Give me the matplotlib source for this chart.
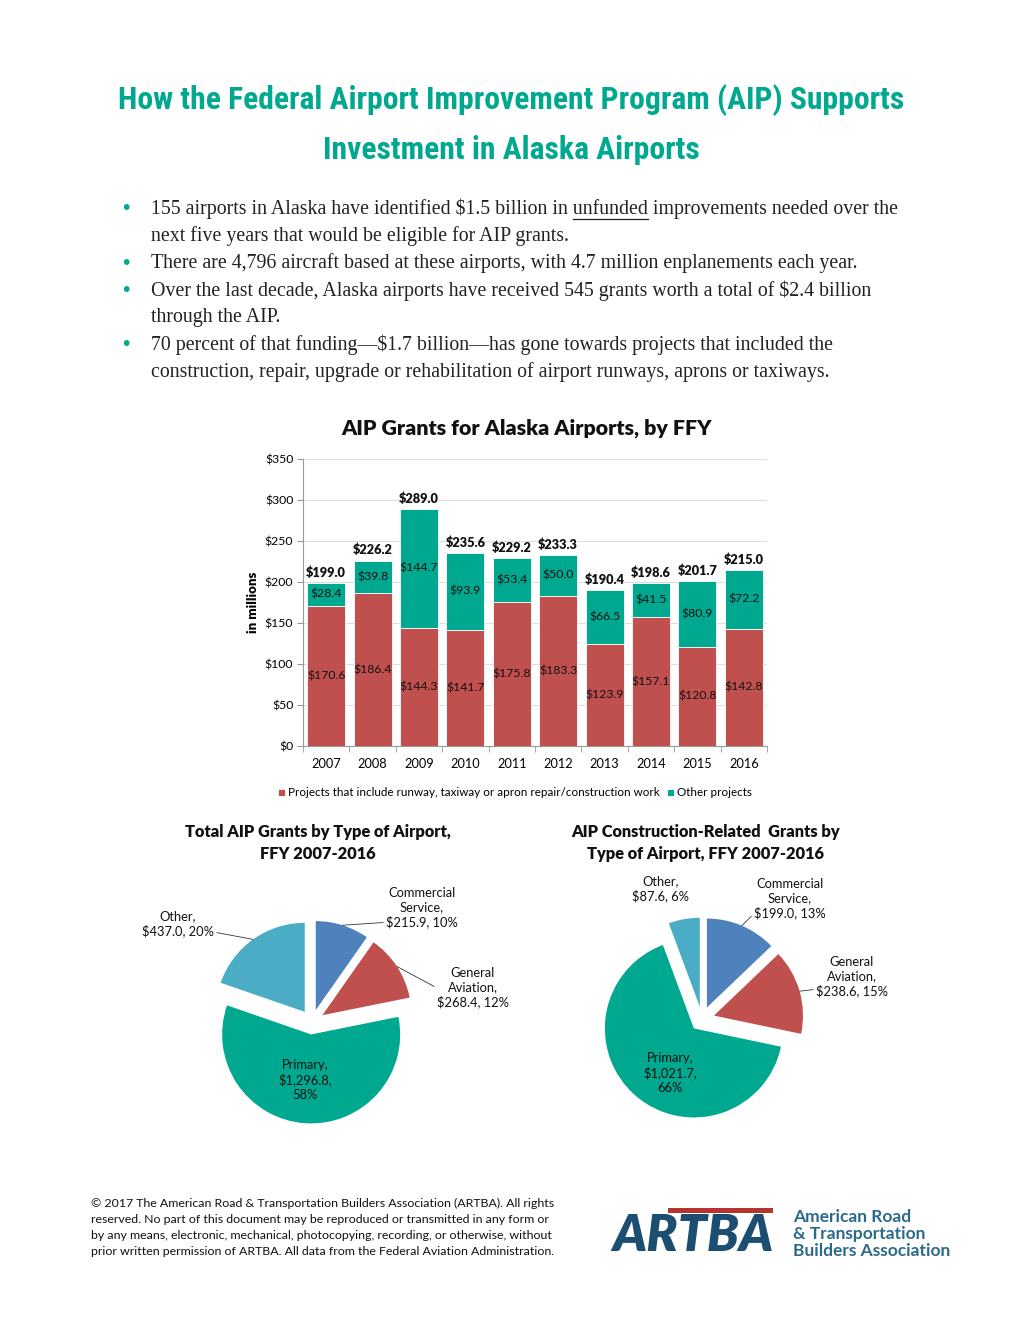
import math
import matplotlib
matplotlib.use("Agg")
import matplotlib.pyplot as plt
from matplotlib import font_manager
from matplotlib.patches import Rectangle

# ---- data ----
years = ["2007", "2008", "2009", "2010", "2011", "2012", "2013", "2014", "2015", "2016"]
runway_work = [170.6, 186.4, 144.3, 141.7, 175.8, 183.3, 123.9, 157.1, 120.8, 142.8]
other_work = [28.4, 39.8, 144.7, 93.9, 53.4, 50.0, 66.5, 41.5, 80.9, 72.2]
totals = [199.0, 226.2, 289.0, 235.6, 229.2, 233.3, 190.4, 198.6, 201.7, 215.0]

pie_types = ["Commercial Service", "General Aviation", "Primary", "Other"]
total_grants = [215.9, 268.4, 1296.8, 437.0]
total_pct = [10, 12, 58, 20]
constr_grants = [199.0, 238.6, 1021.7, 87.6]
constr_pct = [13, 15, 66, 6]

bullets = [
    ["155 airports in Alaska have identified $1.5 billion in unfunded improvements needed over the",
     "next five years that would be eligible for AIP grants."],
    ["There are 4,796 aircraft based at these airports, with 4.7 million enplanements each year."],
    ["Over the last decade, Alaska airports have received 545 grants worth a total of $2.4 billion",
     "through the AIP."],
    ["70 percent of that funding\u2014$1.7 billion\u2014has gone towards projects that included the",
     "construction, repair, upgrade or rehabilitation of airport runways, aprons or taxiways."],
]

TEAL = "#00A88F"
RED = "#C0504D"
BLUE = "#4F81BD"
LBLUE = "#4BACC6"
NAVY = "#1B4E70"

names = {f.name for f in font_manager.fontManager.ttflist}


def pick(*cands):
    for c in cands:
        if c in names:
            return c
    return "DejaVu Sans"


NARROW = pick("Roboto Condensed", "Open Sans Condensed", "Liberation Sans Narrow", "Lato")
SANS = pick("Lato")
SERIF = "Liberation Serif" if "Liberation Serif" in names else "DejaVu Serif"

W, H = 1020, 1320
fig = plt.figure(figsize=(W / 100, H / 100), dpi=100)


def fx(px):
    return px / W


def fy(py):
    return 1 - py / H


# ---- headline ----
fig.text(fx(511), fy(100), "How the Federal Airport Improvement Program (AIP) Supports",
         family=NARROW, weight="bold", size=22.8, color=TEAL, ha="center", va="center")
fig.text(fx(511), fy(150), "Investment in Alaska Airports",
         family=NARROW, weight="bold", size=22.8, color=TEAL, ha="center", va="center")

# ---- bullet points ----
renderer = fig.canvas.get_renderer()
BSIZE = 14.3
line_y = 209
for item in bullets:
    fig.text(fx(126), fy(line_y), "\u2022", size=14, color=TEAL, ha="center", va="center")
    for line in item:
        fig.text(fx(151), fy(line_y), line, family=SERIF, size=BSIZE, color="#222222",
                 ha="left", va="center")
        if "unfunded" in line:
            # underline the word "unfunded"
            head = line[:line.index("unfunded") + len("unfunded")]
            t1 = fig.text(fx(151), fy(line_y), head, family=SERIF, size=BSIZE, va="center")
            t2 = fig.text(fx(151), fy(line_y), "unfunded", family=SERIF, size=BSIZE, va="center")
            x_end = t1.get_window_extent(renderer).x1
            w_word = t2.get_window_extent(renderer).width
            t1.remove()
            t2.remove()
            fig.add_artist(plt.Line2D([(x_end - w_word) / W, x_end / W],
                                      [fy(line_y + 10), fy(line_y + 10)],
                                      color="#222222", lw=0.9))
        line_y += 27.2

# ---- bar chart ----
fig.text(fx(527), fy(428), "AIP Grants for Alaska Airports, by FFY", family=SANS,
         weight="heavy", size=15.4, color="#111111", ha="center", va="center")

ax = fig.add_axes([fx(303), fy(746), (767 - 303) / W, (746 - 459) / H])
x = list(range(len(years)))
b1 = ax.bar(x, runway_work, width=0.82, color=RED, edgecolor="white", linewidth=0.6,
            label="Projects that include runway, taxiway or apron repair/construction work", zorder=3)
b2 = ax.bar(x, other_work, bottom=runway_work, width=0.82, color=TEAL, edgecolor="white",
            linewidth=0.6, label="Other projects", zorder=3)
for i in x:
    ax.text(i, runway_work[i] / 2, f"${runway_work[i]:.1f}", ha="center", va="center",
            family=SANS, size=8.8, color="#111111", zorder=4)
    ax.text(i, runway_work[i] + other_work[i] / 2, f"${other_work[i]:.1f}", ha="center",
            va="center", family=SANS, size=8.8, color="#111111", zorder=4)
    ax.text(i, totals[i] + 5, f"${totals[i]:.1f}", ha="center", va="bottom",
            family=SANS, weight="heavy", size=9.2, color="#111111", zorder=4)

ax.set_xlim(-0.5, len(years) - 0.5)
ax.set_ylim(0, 350)
ax.set_yticks(range(0, 351, 50))
ax.set_yticklabels([f"${v}" for v in range(0, 351, 50)], family=SANS, size=8.8)
ax.set_xticks(x)
ax.set_xticklabels(years, family=SANS, size=9.2)
ax.set_xticks([i + 0.5 for i in range(-1, len(years))], minor=True)
ax.tick_params(axis="x", which="major", length=0, pad=9)
ax.tick_params(axis="x", which="minor", length=4, color="#999999")
ax.tick_params(axis="y", length=4, color="#999999", pad=3)
ax.grid(axis="y", color="#DDDDDD", lw=0.8, zorder=0)
for s in ["top", "right"]:
    ax.spines[s].set_visible(False)
for s in ["left", "bottom"]:
    ax.spines[s].set_color("#999999")
    ax.spines[s].set_linewidth(0.8)
ax.set_ylabel("in millions", family=SANS, weight="heavy", size=9.5)
ax.yaxis.set_label_coords((259 - 303) / 464, 0.5)
ax.legend(handles=[b1, b2], loc="center", bbox_to_anchor=(fx(515), fy(793)),
          bbox_transform=fig.transFigure, ncol=2, frameon=False, handlelength=0.6,
          handleheight=0.6, handletextpad=0.3, columnspacing=0.6,
          prop={"family": SANS, "size": 8.4})


# ---- pies ----
def draw_pie(cx, cy, values, pcts, title, tx, label_pos, relpos):
    fig.text(fx(tx), fy(832), title[0], family=SANS, weight="heavy", size=11.8,
             ha="center", va="center", color="#111111")
    fig.text(fx(tx), fy(854), title[1], family=SANS, weight="heavy", size=11.8,
             ha="center", va="center", color="#111111")
    half = 150
    pax = fig.add_axes([fx(cx - half), fy(cy + half), 2 * half / W, 2 * half / H])
    lim = half / 89
    wedges, _ = pax.pie(values, colors=[BLUE, RED, TEAL, LBLUE], startangle=90,
                        counterclock=False, explode=[0.14] * 4, radius=1,
                        wedgeprops=dict(linewidth=0))
    pax.set_xlim(-lim, lim)
    pax.set_ylim(-lim, lim)
    pax.set_aspect("equal")
    pax.axis("off")
    for k, w in enumerate(wedges):
        nm = pie_types[k]
        if nm == "Primary":
            txt = f"Primary,\n${values[k]:,.1f},\n{pcts[k]}%"
        elif nm == "Other":
            txt = f"Other,\n${values[k]:,.1f}, {pcts[k]}%"
        else:
            a, b = nm.split(" ")
            txt = f"{a}\n{b},\n${values[k]:,.1f}, {pcts[k]}%"
        px, py = label_pos[k]
        if relpos[k] is None:
            fig.text(fx(px), fy(py), txt, family=SANS, size=9.3, ha="center", va="center",
                     linespacing=1.2, color="#111111")
        else:
            ang = math.radians((w.theta1 + w.theta2) / 2)
            ex, ey = w.center[0] + math.cos(ang), w.center[1] + math.sin(ang)
            pax.annotate(txt, xy=(ex, ey), xytext=(fx(px), fy(py)), textcoords="figure fraction",
                         family=SANS, size=9.3, ha="center", va="center", linespacing=1.2,
                         color="#111111", annotation_clip=False,
                         arrowprops=dict(arrowstyle="-", color="#333333", lw=0.6,
                                         relpos=relpos[k], shrinkA=0, shrinkB=0))


draw_pie(312, 1022, total_grants, total_pct,
         ["Total AIP Grants by Type of Airport,", "FFY 2007-2016"], 318,
         [(422, 908), (473, 988), (305, 1080), (178, 924)],
         [(0.0, 0.15), (0.0, 0.5), None, (1.0, 0.2)])
draw_pie(702, 1019, constr_grants, constr_pct,
         ["AIP Construction-Related  Grants by", "Type of Airport, FFY 2007-2016"], 706,
         [(790, 899), (852, 977), (670, 1073), (661, 889)],
         [(0.0, 0.15), (0.0, 0.2), None, None])

# ---- footer ----
footer = ("\u00a9 2017 The American Road & Transportation Builders Association (ARTBA). All rights\n"
          "reserved. No part of this document may be reproduced or transmitted in any form or\n"
          "by any means, electronic, mechanical, photocopying, recording, or otherwise, without\n"
          "prior written permission of ARTBA. All data from the Federal Aviation Administration.")
fig.text(fx(91), fy(1227.5), footer, family=SANS, size=8.9, ha="left", va="center",
         linespacing=1.55, color="#111111")

# ---- logo ----
fig.add_artist(Rectangle((fx(668), fy(1213)), (773 - 668) / W, 5 / H,
                         transform=fig.transFigure, color="#B5342D", lw=0))
fig.text(fx(693), fy(1236), "ARTBA", family=SANS, weight="heavy", style="italic",
         size=37, color=NAVY, ha="center", va="center")
fig.text(fx(793), fy(1234), "American Road\n& Transportation\nBuilders Association",
         family=SANS, weight="bold", size=12.5, color="#2B6A8C", ha="left", va="center",
         linespacing=1.05)

fig.savefig("out.png", dpi=100)
